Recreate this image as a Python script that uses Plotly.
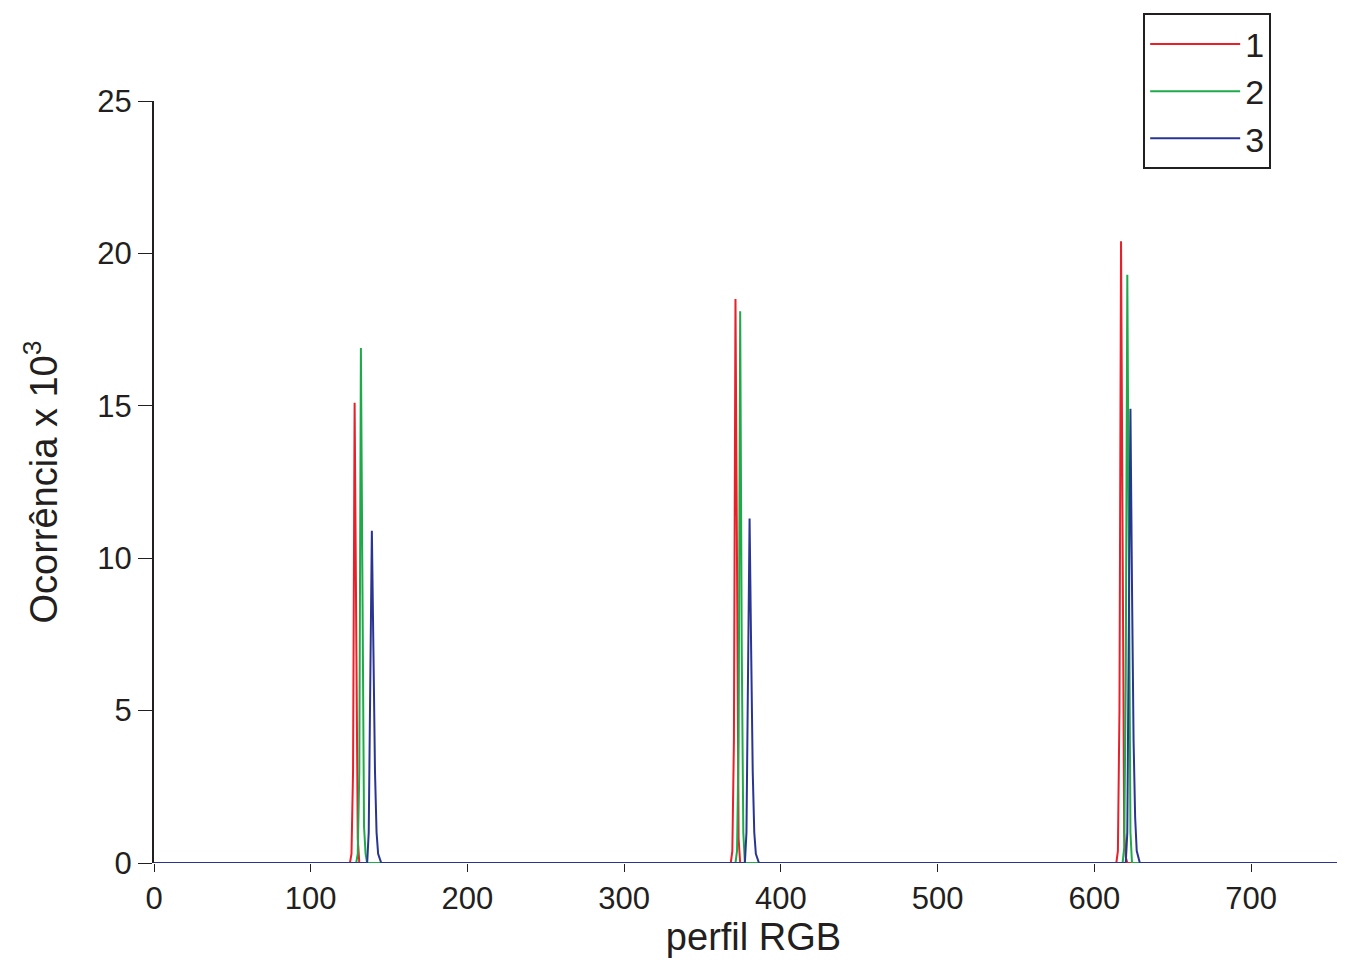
import plotly.graph_objects as go

# histogram points (x = perfil RGB, y = ocorrência x 10^3)
x1 = [0, 125, 126, 127, 128, 129, 130, 131, 368, 369, 370, 371, 372, 373, 374, 614, 615, 616, 617, 618, 619, 620, 621, 770]
y1 = [0, 0, 0.3, 3.0, 15.1, 6.0, 0.8, 0, 0, 0.4, 4.0, 18.5, 7.0, 0.8, 0, 0, 0.4, 5.0, 20.4, 8.0, 1.0, 0.2, 0, 0]
x2 = [0, 129, 130, 131, 132, 133, 134, 135, 136, 371, 372, 373, 374, 375, 376, 377, 618, 619, 620, 621, 622, 623, 624, 770]
y2 = [0, 0, 0.3, 3.0, 16.9, 7.0, 1.2, 0.3, 0, 0, 0.4, 4.0, 18.1, 7.0, 1.0, 0, 0, 0.5, 6.0, 19.3, 8.0, 1.0, 0, 0]
x3 = [0, 136, 137, 138, 139, 140, 141, 142, 143, 145, 377, 378, 379, 380, 381, 382, 383, 384, 386, 620, 621, 622, 623, 624, 625, 626, 627, 629, 770]
y3 = [0, 0, 1.0, 6.0, 10.9, 7.0, 3.0, 1.0, 0.3, 0, 0, 1.0, 6.0, 11.3, 7.0, 3.0, 1.0, 0.3, 0, 0, 1.0, 7.0, 14.9, 9.0, 4.0, 1.5, 0.4, 0, 0]

series = [("1", x1, y1, "#e8202a"), ("2", x2, y2, "#1faa4a"), ("3", x3, y3, "#2a3592")]

fig = go.Figure()
for name, xs, ys, c in series:
    fig.add_trace(go.Scatter(x=xs, y=ys, mode="lines", name=name,
                             line=dict(color=c, width=2)))

font = "Liberation Sans, Arial, sans-serif"
fig.update_layout(
    width=1345, height=980,
    paper_bgcolor="white", plot_bgcolor="white",
    margin=dict(l=146, r=0, t=93, b=125),
    font=dict(family=font, color="#231f20", size=31),
    xaxis=dict(range=[0, 765], tickvals=[0, 100, 200, 300, 400, 500, 600, 700],
               ticks="outside", ticklen=8, tickcolor="#231f20", showgrid=False,
               zeroline=False, showline=False,
               title=dict(text="perfil RGB", font=dict(size=38), standoff=8)),
    yaxis=dict(range=[0, 25], tickvals=[0, 5, 10, 15, 20, 25],
               ticks="outside", ticklen=14, tickcolor="#231f20", showgrid=False,
               zeroline=False, showline=True, linecolor="#231f20", linewidth=2,
               title=dict(text="Ocorrência x 10<sup>3</sup>", font=dict(size=38), standoff=28)),
    legend=dict(x=0.825, xanchor="left", y=1.115, yanchor="top",
                bordercolor="#231f20", borderwidth=2, bgcolor="white",
                font=dict(size=34), itemwidth=90, tracegroupgap=0),
)
fig.write_html("out.html")
